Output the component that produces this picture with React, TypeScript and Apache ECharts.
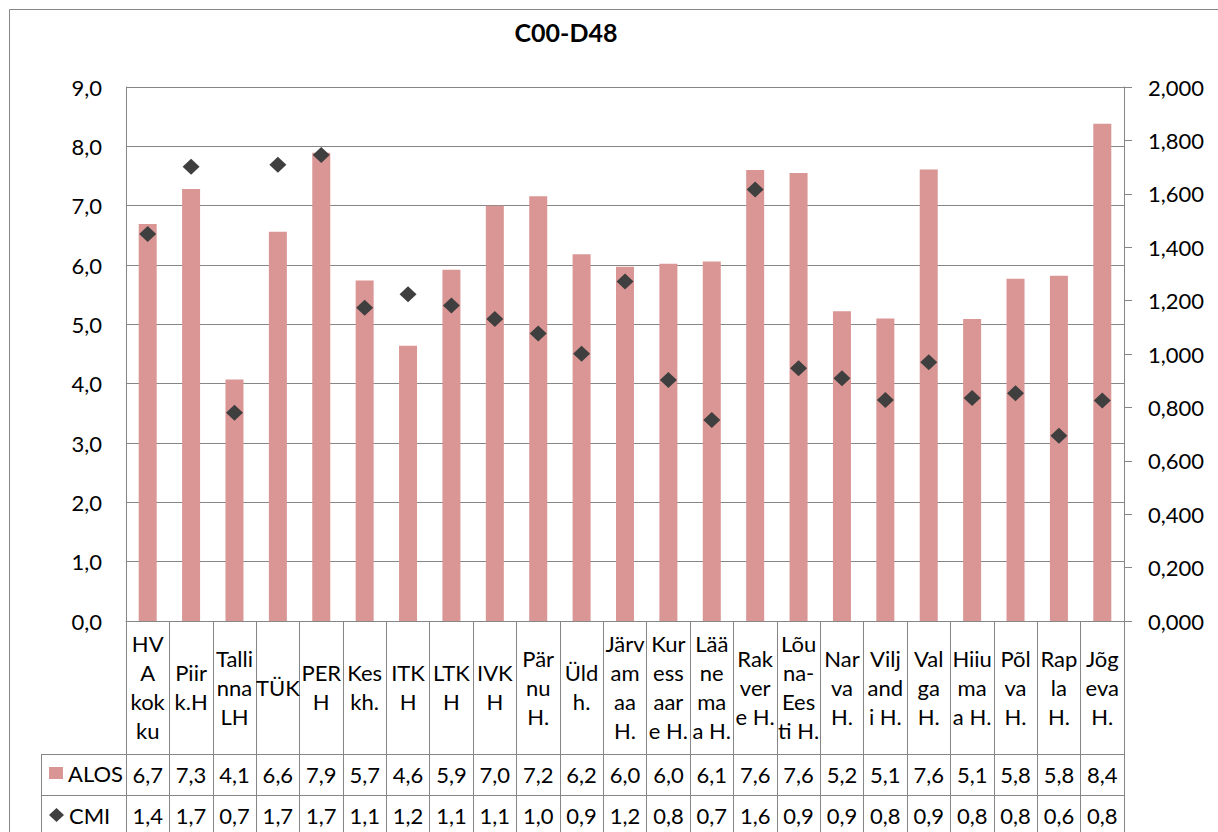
import React, { useEffect, useRef } from "react";
import * as echarts from "echarts";

const categories = [
  "HV\nA\nkok\nku", "Piir\nk.H", "Talli\nnna\nLH", "TÜK", "PER\nH", "Kes\nkh.",
  "ITK\nH", "LTK\nH", "IVK\nH", "Pär\nnu\nH.", "Üld\nh.", "Järv\nam\naa\nH.",
  "Kur\ness\naar\ne H.", "Lää\nne\nma\na H.", "Rak\nver\ne H.", "Lõu\nna-\nEes\nti H.",
  "Nar\nva\nH.", "Vilj\nand\ni H.", "Val\nga\nH.", "Hiiu\nma\na H.", "Põl\nva\nH.",
  "Rap\nla\nH.", "Jõg\neva\nH.",
];

const alos = [6.69, 7.28, 4.07, 6.56, 7.89, 5.74, 4.64, 5.92, 7.0, 7.16, 6.18, 5.97, 6.02, 6.06, 7.6, 7.55, 5.22, 5.1, 7.61, 5.09, 5.77, 5.82, 8.38];
const cmi = [1.449, 1.701, 0.78, 1.709, 1.745, 1.173, 1.224, 1.182, 1.131, 1.077, 1.001, 1.272, 0.903, 0.753, 1.616, 0.947, 0.909, 0.828, 0.969, 0.835, 0.853, 0.694, 0.826];

const alosTable = ["6,7", "7,3", "4,1", "6,6", "7,9", "5,7", "4,6", "5,9", "7,0", "7,2", "6,2", "6,0", "6,0", "6,1", "7,6", "7,6", "5,2", "5,1", "7,6", "5,1", "5,8", "5,8", "8,4"];
const cmiTable = ["1,4", "1,7", "0,7", "1,7", "1,7", "1,1", "1,2", "1,1", "1,1", "1,0", "0,9", "1,2", "0,8", "0,7", "1,6", "0,9", "0,9", "0,8", "0,9", "0,8", "0,8", "0,6", "0,8"];

const title = "C00-D48";
const seriesNames = ["ALOS", "CMI"];

const FONT = "Lato, 'Open Sans', sans-serif";
const GRAY = "#868686";
const BAR = "#D99694";
const DIAMOND = "#3F3F3F";

export default function App() {
  const ref = useRef<HTMLDivElement>(null);
  useEffect(() => {
    if (!ref.current) return;
    const chart = echarts.init(ref.current, undefined, { renderer: "svg" });
    const labelStyle = { fontFamily: FONT, fontSize: 22, color: "#000" };
    const legendBase = {
      orient: "horizontal",
      left: 49,
      itemWidth: 14,
      itemHeight: 12,
      padding: 0,
      selectedMode: false,
      textStyle: { fontFamily: FONT, fontSize: 22, color: "#000" },
    };
    chart.setOption({
      animation: false,
      backgroundColor: "#fff",
      title: {
        text: title,
        left: 566,
        top: 18,
        textAlign: "center",
        padding: 0,
        textStyle: { fontFamily: FONT, fontSize: 25, fontWeight: "bold", color: "#000", lineHeight: 28 },
      },
      legend: [
        { ...legendBase, top: 762, data: [{ name: seriesNames[0], icon: "rect" }] },
        { ...legendBase, top: 804, itemWidth: 15, itemHeight: 14, data: [{ name: seriesNames[1], icon: "diamond" }] },
      ],
      grid: { left: 126, right: 94, top: 87, bottom: 211, containLabel: false },
      xAxis: [
        {
          type: "category",
          data: categories,
          position: "bottom",
          axisLine: { show: true, lineStyle: { color: GRAY, width: 1 } },
          axisTick: { show: true, interval: 0, length: 220, lineStyle: { color: GRAY, width: 1 } },
          axisLabel: {
            interval: 0,
            margin: 66,
            verticalAlign: "middle",
            align: "center",
            lineHeight: 29,
            ...labelStyle,
          },
          splitLine: { show: false },
        },
        {
          type: "category",
          data: categories,
          position: "bottom",
          axisLine: { show: false },
          axisTick: { show: false },
          axisLabel: {
            interval: 0,
            margin: 153,
            verticalAlign: "middle",
            align: "center",
            formatter: (_v: string, i: number) => alosTable[i],
            ...labelStyle,
          },
        },
        {
          type: "category",
          data: categories,
          position: "bottom",
          axisLine: { show: false },
          axisTick: { show: false },
          axisLabel: {
            interval: 0,
            margin: 194,
            verticalAlign: "middle",
            align: "center",
            formatter: (_v: string, i: number) => cmiTable[i],
            ...labelStyle,
          },
        },
      ],
      yAxis: [
        {
          type: "value",
          min: 0,
          max: 9,
          interval: 1,
          position: "left",
          axisLine: { show: true, lineStyle: { color: GRAY, width: 1 } },
          axisTick: { show: false },
          splitLine: { show: true, lineStyle: { color: GRAY, width: 1 } },
          axisLabel: {
            margin: 24,
            formatter: (v: number) => v.toFixed(1).replace(".", ","),
            ...labelStyle,
          },
        },
        {
          type: "value",
          min: 0,
          max: 2,
          interval: 0.2,
          position: "right",
          axisLine: { show: true, lineStyle: { color: GRAY, width: 1 } },
          axisTick: { show: true, length: 8, lineStyle: { color: GRAY, width: 1 } },
          splitLine: { show: false },
          axisLabel: {
            margin: 24,
            formatter: (v: number) => v.toFixed(3).replace(".", ","),
            ...labelStyle,
          },
        },
      ],
      series: [
        {
          type: "bar",
          name: seriesNames[0],
          data: alos,
          xAxisIndex: 0,
          yAxisIndex: 0,
          barWidth: 18,
          itemStyle: { color: BAR },
          z: 2,
        },
        {
          type: "scatter",
          name: seriesNames[1],
          data: cmi,
          xAxisIndex: 0,
          yAxisIndex: 1,
          symbol: "diamond",
          symbolSize: [17, 16],
          itemStyle: { color: DIAMOND, opacity: 1 },
          z: 3,
        },
      ],
      graphic: [
        {
          type: "rect",
          shape: { x: 9.5, y: 9.5, width: 1400, height: 1000 },
          style: { fill: "none", stroke: GRAY, lineWidth: 1 },
          silent: true,
        },
        {
          type: "line",
          shape: { x1: 41, y1: 754.5, x2: 1124, y2: 754.5 },
          style: { stroke: GRAY, lineWidth: 1 },
          silent: true,
        },
        {
          type: "line",
          shape: { x1: 41, y1: 795.5, x2: 1124, y2: 795.5 },
          style: { stroke: GRAY, lineWidth: 1 },
          silent: true,
        },
        {
          type: "line",
          shape: { x1: 41.5, y1: 754, x2: 41.5, y2: 840 },
          style: { stroke: GRAY, lineWidth: 1 },
          silent: true,
        },
      ],
    });
    return () => chart.dispose();
  }, []);
  return (
    <div
      ref={ref}
      style={{ position: "absolute", left: 0, top: 0, width: 1218, height: 832 }}
    />
  );
}
